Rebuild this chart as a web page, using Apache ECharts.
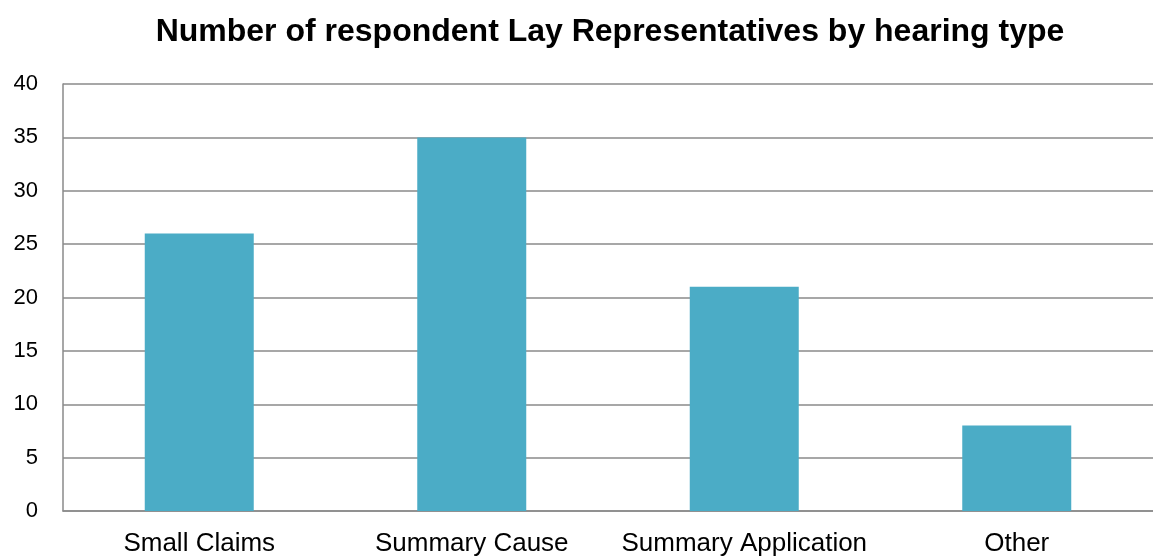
<!DOCTYPE html>
<html><head><meta charset="utf-8">
<script src="https://cdn.jsdelivr.net/npm/echarts@6/dist/echarts.min.js"></script>
<style>html,body{margin:0;padding:0;background:#fff}#c{width:1153px;height:557px}</style>
</head><body><div id="c"></div>
<script>
const categories = ["Small Claims", "Summary Cause", "Summary Application", "Other"];
const values = [26, 35, 21, 8];
const titleText = "Number of respondent Lay Representatives by hearing type";

const chart = echarts.init(document.getElementById('c'));
chart.setOption({
  animation: false,
  title: {
    text: titleText,
    left: 605, top: 11, textAlign: 'center',
    textStyle: { fontFamily: 'Liberation Sans, Arial', fontWeight: 'bold', fontSize: 32, color: '#000' }
  },
  grid: { left: 63, right: -6, top: 84, bottom: 44, containLabel: false },
  xAxis: {
    type: 'category', data: categories,
    axisLine: { lineStyle: { color: '#8a8a8a', width: 1.5 } },
    axisTick: { show: false },
    axisLabel: { interval: 0, hideOverlap: false, fontFamily: 'Liberation Sans, Arial', fontSize: 26, color: '#000', margin: 20 }
  },
  yAxis: {
    type: 'value', min: 0, max: 40, interval: 5,
    axisLine: { show: true, lineStyle: { color: '#8a8a8a', width: 1.5 } },
    axisTick: { show: false },
    splitLine: { lineStyle: { color: '#8a8a8a', width: 1.5 } },
    axisLabel: { fontFamily: 'Liberation Sans, Arial', fontSize: 22, color: '#000', margin: 25 }
  },
  series: [{
    type: 'bar', data: values, barWidth: '40%',
    itemStyle: { color: '#4BACC6' }
  }]
});
</script></body></html>
